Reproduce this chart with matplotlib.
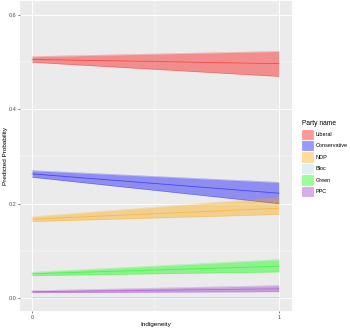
import matplotlib
matplotlib.use('Agg')
import matplotlib.pyplot as plt
from matplotlib.patches import Patch

plt.rcParams['font.family'] = ['Liberation Sans', 'DejaVu Sans']

# Indigeneity values (x) and predicted probabilities per party
indigeneity = [0, 1]
parties = ['Liberal', 'Conservative', 'NDP', 'Bloc', 'Green', 'PPC']
fit = {
    'Liberal':      [0.506, 0.497],
    'Conservative': [0.263, 0.222],
    'NDP':          [0.167, 0.190],
    'Bloc':         [0.001, 0.001],
    'Green':        [0.051, 0.067],
    'PPC':          [0.013, 0.019],
}
lower = {
    'Liberal':      [0.500, 0.470],
    'Conservative': [0.256, 0.200],
    'NDP':          [0.162, 0.177],
    'Bloc':         [0.000, 0.000],
    'Green':        [0.047, 0.055],
    'PPC':          [0.011, 0.013],
}
upper = {
    'Liberal':      [0.512, 0.523],
    'Conservative': [0.270, 0.245],
    'NDP':          [0.172, 0.213],
    'Bloc':         [0.002, 0.002],
    'Green':        [0.054, 0.081],
    'PPC':          [0.015, 0.026],
}
colors = {
    'Liberal': 'red', 'Conservative': 'blue', 'NDP': 'orange',
    'Bloc': 'lightblue', 'Green': 'lime', 'PPC': 'darkorchid',
}

fig = plt.figure(figsize=(3.5, 3.3), dpi=100)
ax = fig.add_axes([0.057, 0.0576, 0.777, 0.9394])
ax.set_facecolor('#EBEBEB')
for s in ax.spines.values():
    s.set_visible(False)

for p in parties:
    c = colors[p]
    ax.fill_between(indigeneity, lower[p], upper[p], color=c, alpha=0.4,
                    linewidth=0, zorder=3)
    ax.plot(indigeneity, fit[p], color=c, alpha=0.5, linewidth=0.6, zorder=4)
    ax.plot(indigeneity, lower[p], color=c, alpha=0.3, linewidth=0.4, zorder=4)
    ax.plot(indigeneity, upper[p], color=c, alpha=0.3, linewidth=0.4, zorder=4)

ax.set_xlim(-0.049, 1.053)
ax.set_ylim(-0.028, 0.63)
ax.set_xticks([0, 1])
ax.set_xticks([0.5], minor=True)
ax.set_yticks([0.0, 0.2, 0.4, 0.6])
ax.set_yticklabels(['0.0', '0.2', '0.4', '0.6'])
ax.set_yticks([0.1, 0.3, 0.5], minor=True)
ax.grid(which='major', color='white', linewidth=0.7, zorder=0)
ax.grid(which='minor', color='white', linewidth=0.35, zorder=0)
ax.set_axisbelow(True)
ax.tick_params(which='major', labelsize=4, colors='#4D4D4D', length=1.5,
               width=0.5, pad=1.2)
ax.tick_params(which='minor', length=0)
ax.set_xlabel('Indigeneity', fontsize=4.6, va='center')
ax.set_ylabel('Predicted Probability', fontsize=4.6, va='center')
ax.xaxis.set_label_coords(0.5, -0.045)
ax.yaxis.set_label_coords(-0.053, 0.5)

handles = [Patch(facecolor=colors[p], alpha=0.4, edgecolor=colors[p],
                 linewidth=0.4, label=p) for p in parties]
leg = fig.legend(handles=handles, title='Party name', loc='upper left',
                 bbox_to_anchor=(0.862, 0.635), fontsize=4,
                 title_fontsize=4.8, frameon=False, handlelength=2.0,
                 handleheight=2.2, labelspacing=0.38, handletextpad=0.5,
                 borderpad=0, borderaxespad=0)
leg._legend_box.align = 'left'

fig.savefig('out.png', dpi=100)
